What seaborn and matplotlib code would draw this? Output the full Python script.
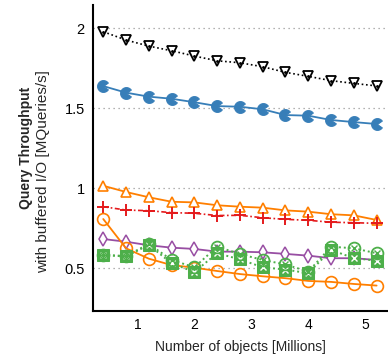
import numpy as np
import pandas as pd
import matplotlib
matplotlib.use("Agg")
import matplotlib.pyplot as plt
from matplotlib.path import Path
import seaborn as sns

# Number of objects (millions)
objects = [0.4, 0.8, 1.2, 1.6, 2.0, 2.4, 2.8, 3.2, 3.6, 4.0, 4.4, 4.8, 5.2]

# Query throughput with buffered I/O (MQueries/s)
black_tri = [1.979, 1.927, 1.889, 1.860, 1.827, 1.797, 1.785, 1.760, 1.725, 1.700, 1.673, 1.656, 1.640]
blue_wedge = [1.639, 1.598, 1.573, 1.560, 1.538, 1.514, 1.510, 1.494, 1.458, 1.454, 1.427, 1.414, 1.402]
orange_tri = [1.016, 0.977, 0.944, 0.916, 0.912, 0.894, 0.885, 0.879, 0.862, 0.854, 0.838, 0.831, 0.802]
red_plus = [0.885, 0.864, 0.860, 0.848, 0.844, 0.830, 0.831, 0.816, 0.806, 0.800, 0.788, 0.785, 0.781]
purple_dia = [0.683, 0.666, 0.644, 0.629, 0.621, 0.604, 0.604, 0.600, 0.590, 0.579, 0.563, 0.563, 0.552]
orange_circ = [0.808, 0.625, 0.560, 0.520, 0.504, 0.483, 0.464, 0.450, 0.438, 0.421, 0.415, 0.402, 0.392]
green_sq = [0.583, 0.574, 0.646, 0.531, 0.477, 0.594, 0.556, 0.506, 0.492, 0.469, 0.615, 0.563, 0.548]
green_circ = [0.583, 0.577, 0.652, 0.552, 0.506, 0.635, 0.589, 0.552, 0.524, 0.479, 0.635, 0.625, 0.594]

y_ticks = [0.5, 1.0, 1.5, 2.0]
y_tick_labels = ["0.5", "1", "1.5", "2"]
x_ticks = [1, 2, 3, 4, 5]

sns.set_theme(style="white")
plt.rcParams["font.family"] = ["Liberation Sans", "DejaVu Sans"]

BLACK = "#000000"
BLUE = "#377eb8"
ORANGE = "#ff7f00"
RED = "#e41a1c"
PURPLE = "#984ea3"
GREEN = "#4daf4a"

fig = plt.figure(figsize=(3.88, 3.56), dpi=100)
ax = fig.add_axes([93 / 388, 1 - 311 / 356, 295 / 388, 306 / 356])

wedge = Path.wedge(35, 325)

def draw(values, **kw):
    df = pd.DataFrame({"x": objects, "y": values})
    sns.lineplot(data=df, x="x", y="y", ax=ax, estimator=None, sort=False, **kw)

# horizontal dotted grid
for yt in y_ticks:
    ax.axhline(yt, color="#999999", lw=0.9, ls=(0, (1, 3)), zorder=0.5)

draw(black_tri, color=BLACK, lw=1.2, ls=(0, (1, 1.6)), marker="v", markersize=7.5,
     markerfacecolor="white", markeredgecolor=BLACK, markeredgewidth=1.3, zorder=3)
draw(black_tri, color=BLACK, lw=0, marker=".", markersize=2.5,
     markeredgecolor=BLACK, zorder=3.1)
draw(blue_wedge, color=BLUE, lw=1.3, marker=wedge, markersize=8.5,
     markerfacecolor=BLUE, markeredgecolor=BLUE, zorder=3)
draw(orange_tri, color=ORANGE, lw=1.3, marker="^", markersize=7,
     markerfacecolor="white", markeredgecolor=ORANGE, markeredgewidth=1.2, zorder=3)
draw(red_plus, color=RED, lw=1.2, ls=(0, (3, 1.5, 1, 1.5)), marker="+", markersize=8,
     markeredgecolor=RED, markeredgewidth=1.4, zorder=3)
draw(purple_dia, color=PURPLE, lw=1.3, marker="d", markersize=7,
     markerfacecolor="white", markeredgecolor=PURPLE, markeredgewidth=1.1, zorder=3)
draw(orange_circ, color=ORANGE, lw=1.3, marker="o", markersize=8.5,
     markerfacecolor="none", markeredgecolor=ORANGE, markeredgewidth=1.2, zorder=3)
draw(green_sq, color=GREEN, lw=1.4, ls=(0, (1, 1.5)), marker="s", markersize=8,
     markerfacecolor=GREEN, markeredgecolor=GREEN, zorder=4)
draw(green_sq, color="white", lw=0, marker="x", markersize=4,
     markeredgecolor="white", markeredgewidth=1.0, zorder=4.1)
draw(green_circ, color=GREEN, lw=1.4, ls=(0, (1, 1.5)), marker="o", markersize=8.5,
     markerfacecolor="none", markeredgecolor=GREEN, markeredgewidth=1.3, zorder=4.2)
draw(green_circ, color=GREEN, lw=0, marker="x", markersize=4,
     markeredgecolor=GREEN, markeredgewidth=1.0, zorder=4.3)

ax.set_xlim(0.22, 5.4)
ax.set_ylim(0.233, 2.146)
ax.set_xticks(x_ticks)
ax.set_xticklabels([str(v) for v in x_ticks])
ax.set_yticks(y_ticks)
ax.set_yticklabels(y_tick_labels)
ax.tick_params(axis="x", direction="in", length=7, width=0.8, color="#888888",
               pad=5, labelsize=10, labelcolor="black")
ax.tick_params(axis="y", length=0, pad=6, labelsize=10.5, labelcolor="black")

for side in ("top", "right"):
    ax.spines[side].set_visible(False)
for side in ("left", "bottom"):
    ax.spines[side].set_color("black")
    ax.spines[side].set_linewidth(1.5)

ax.set_xlabel("Number of objects [Millions]", fontsize=10, labelpad=6)
ax.set_ylabel("")
fig.text(0.066, 1 - 148 / 356, "Query Throughput", rotation=90, ha="center",
         va="center", fontsize=10, fontweight="bold")
fig.text(0.11, 1 - 172 / 356, "with buffered I/O [MQueries/s]", rotation=90,
         ha="center", va="center", fontsize=11)

fig.savefig("out.png", dpi=100)
